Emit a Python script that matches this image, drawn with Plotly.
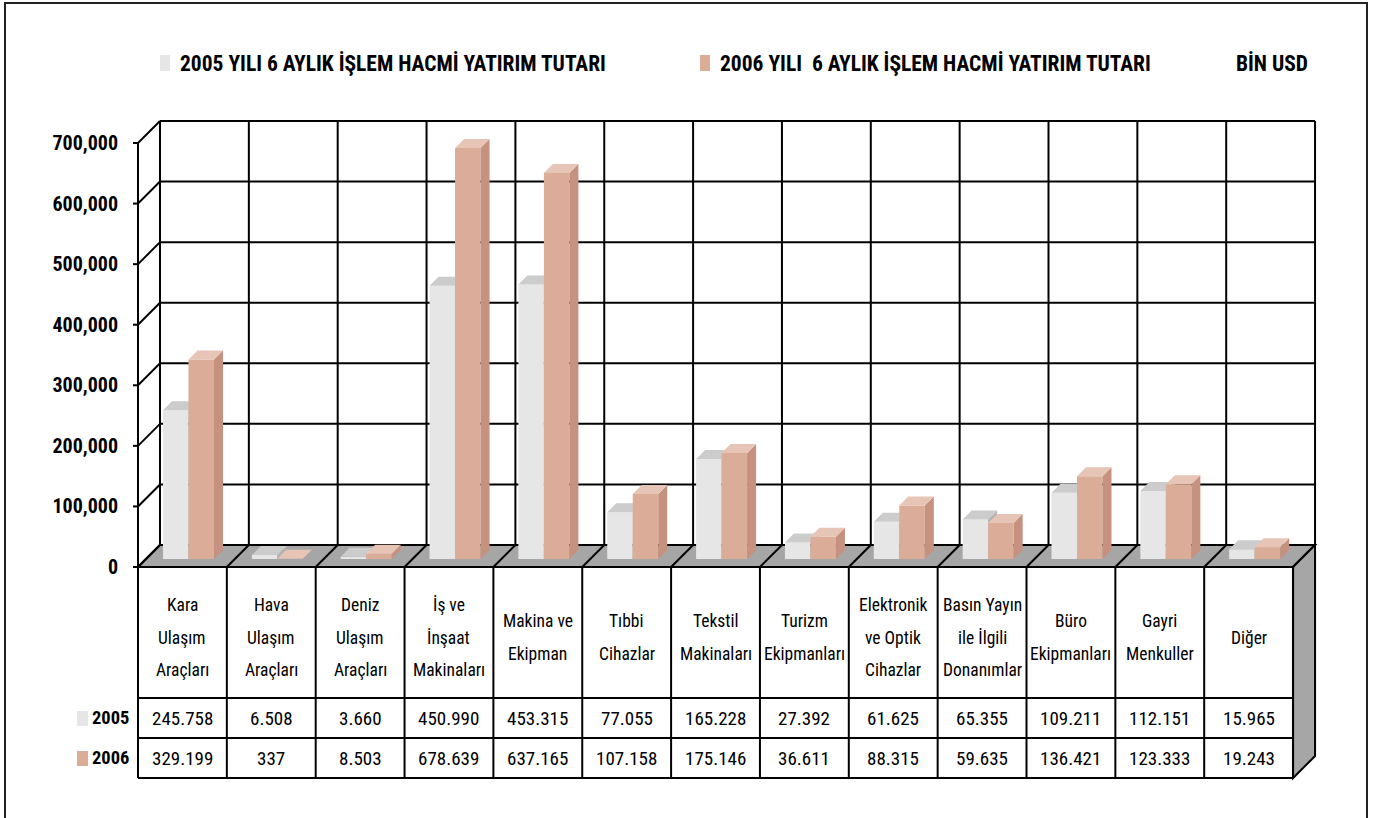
import plotly.graph_objects as go

# ---------------- data ----------------
categories = ["Kara\nUlaşım\nAraçları", "Hava\nUlaşım\nAraçları", "Deniz\nUlaşım\nAraçları",
              "İş ve\nİnşaat\nMakinaları", "Makina ve\nEkipman", "Tıbbi\nCihazlar",
              "Tekstil\nMakinaları", "Turizm\nEkipmanları", "Elektronik\nve Optik\nCihazlar",
              "Basın Yayın\nile İlgili\nDonanımlar", "Büro\nEkipmanları", "Gayri\nMenkuller", "Diğer"]
values_2005 = [245758, 6508, 3660, 450990, 453315, 77055, 165228, 27392, 61625, 65355, 109211, 112151, 15965]
values_2006 = [329199, 337, 8503, 678639, 637165, 107158, 175146, 36611, 88315, 59635, 136421, 123333, 19243]
series_names = ["2005 YILI 6 AYLIK İŞLEM HACMİ YATIRIM TUTARI", "2006 YILI  6 AYLIK İŞLEM HACMİ YATIRIM TUTARI"]
row_labels = ["2005", "2006"]
unit_label = "BİN USD"
y_tickvals = [0, 100000, 200000, 300000, 400000, 500000, 600000, 700000]

# ---------------- geometry / style ----------------
W, H = 1381, 818
L_PX, R_PX, T_PX, B_PX = 133, 1330, 100, 795
X0_PX, COLW, Y0_PX = 138, 88.85, 567
K = 424 / 700000.0               # px per value unit on the front plane
DEPTH_PX = 22
BAR_OFF_PX, BAR_DEPTH_PX = 8, 9
BAR_GAP_PX, BAR_W_PX = 17, 25.5
HEADER_BOTTOM_PX, ROW1_BOTTOM_PX, ROW2_BOTTOM_PX = 698, 738, 778
LABEL_CENTER_PX, LINE_SP = 637.5, 32.5

FONT = "Roboto Condensed, Liberation Sans, Arial, sans-serif"
C05 = dict(front="#e6e6e6", top="#cccccc", side="#b3b3b3")
C06 = dict(front="#dbac98", top="#e6c5b6", side="#c6917f")
FLOOR = "#a6a6a6"
LINE = "black"


def ux(px):
    return (px - X0_PX) / COLW


def vy(py):
    return (Y0_PX - py) / K


def pxp(px):
    return (px - L_PX) / (R_PX - L_PX)


def pyp(py):
    return (B_PX - py) / (B_PX - T_PX)


n = len(categories)
dxu = DEPTH_PX / COLW
dyv = DEPTH_PX / K
y_top = y_tickvals[-1]

shapes = []
# back wall gridlines (horizontal)
for t in y_tickvals:
    shapes.append(dict(type="line", xref="x", yref="y", x0=dxu, x1=n + dxu, y0=t + dyv, y1=t + dyv,
                       line=dict(color=LINE, width=2), layer="below"))
# back wall verticals
for i in range(n + 1):
    shapes.append(dict(type="line", xref="x", yref="y", x0=i + dxu, x1=i + dxu, y0=dyv, y1=y_top + dyv,
                       line=dict(color=LINE, width=2), layer="below"))
# side wall diagonals + front axis stubs
for t in y_tickvals:
    shapes.append(dict(type="line", xref="x", yref="y", x0=0, x1=dxu, y0=t, y1=t + dyv,
                       line=dict(color=LINE, width=2), layer="below"))
    shapes.append(dict(type="line", xref="x", yref="y", x0=ux(L_PX), x1=0, y0=t, y1=t,
                       line=dict(color=LINE, width=2), layer="below"))
shapes.append(dict(type="line", xref="x", yref="y", x0=0, x1=0, y0=0, y1=y_top,
                   line=dict(color=LINE, width=2), layer="below"))
# floor
shapes.append(dict(type="path", xref="x", yref="y",
                   path=f"M 0 0 L {n} 0 L {n + dxu} {dyv} L {dxu} {dyv} Z",
                   fillcolor=FLOOR, line=dict(color=LINE, width=2), layer="below"))
for i in range(n + 1):
    shapes.append(dict(type="line", xref="x", yref="y", x0=i, x1=i + dxu, y0=0, y1=dyv,
                       line=dict(color=LINE, width=2), layer="below"))

# data table
row_lines = [vy(Y0_PX), vy(HEADER_BOTTOM_PX), vy(ROW1_BOTTOM_PX), vy(ROW2_BOTTOM_PX)]
vb = row_lines[-1]
shapes.append(dict(type="path", xref="x", yref="y",
                   path=f"M {n} 0 L {n + dxu} {dyv} L {n + dxu} {vb + dyv} L {n} {vb} Z",
                   fillcolor=FLOOR, line=dict(color=LINE, width=2), layer="above"))
for yv in row_lines:
    shapes.append(dict(type="line", xref="x", yref="y", x0=0, x1=n, y0=yv, y1=yv,
                       line=dict(color=LINE, width=2), layer="above"))
for i in range(n + 1):
    shapes.append(dict(type="line", xref="x", yref="y", x0=i, x1=i, y0=vb, y1=0,
                       line=dict(color=LINE, width=2), layer="above"))

# outer frame
shapes.append(dict(type="rect", xref="paper", yref="paper", x0=pxp(5), x1=pxp(1367), y0=pyp(830), y1=pyp(3),
                   line=dict(color="#222222", width=2), fillcolor="rgba(0,0,0,0)", layer="above"))

# legend squares & row label squares
legend_sq_px = [160, 700]
legend_txt_px = [178, 718]
row_y_px = [718, 758]
cols = [C05, C06]
for k in range(2):
    shapes.append(dict(type="rect", xref="paper", yref="paper",
                       x0=pxp(legend_sq_px[k]), x1=pxp(legend_sq_px[k] + 10),
                       y0=pyp(71), y1=pyp(55), fillcolor=cols[k]["front"], line=dict(width=0)))
    shapes.append(dict(type="rect", xref="paper", yref="paper",
                       x0=pxp(77), x1=pxp(88), y0=pyp(row_y_px[k] + 8), y1=pyp(row_y_px[k] - 7),
                       fillcolor=cols[k]["front"], line=dict(width=0)))

# ---------------- traces (3D bars as front/side/top faces, drawn back to front) ----------------
fig = go.Figure()
bw = BAR_W_PX / COLW
base_v = BAR_OFF_PX / K
bdx = BAR_DEPTH_PX / COLW
bdy = BAR_DEPTH_PX / K
for s, (vals, c, name) in enumerate(zip([values_2005, values_2006], cols, series_names)):
    lefts = [i + (BAR_GAP_PX + s * BAR_W_PX + BAR_OFF_PX) / COLW for i in range(n)]
    fx, fy, tx, ty, sx, sy = [], [], [], [], [], []
    for xl, v in zip(lefts, vals):
        top = base_v + v
        xr = xl + bw
        fx += [xl, xr, xr, xl, xl, None]
        fy += [base_v, base_v, top, top, base_v, None]
        tx += [xl, xr, xr + bdx, xl + bdx, xl, None]
        ty += [top, top, top + bdy, top + bdy, top, None]
        sx += [xr, xr, xr + bdx, xr + bdx, xr, None]
        sy += [base_v, top, top + bdy, base_v + bdy, base_v, None]
    fig.add_trace(go.Scatter(x=fx, y=fy, fill="toself", fillcolor=c["front"], mode="none", name=name,
                             showlegend=False, hoverinfo="skip"))
    fig.add_trace(go.Scatter(x=sx, y=sy, fill="toself", fillcolor=c["side"], mode="none",
                             showlegend=False, hoverinfo="skip"))
    fig.add_trace(go.Scatter(x=tx, y=ty, fill="toself", fillcolor=c["top"], mode="none",
                             showlegend=False, hoverinfo="skip"))

# ---------------- annotations ----------------
ann = []
for i, cat in enumerate(categories):
    lines = cat.split("\n")
    m = len(lines)
    for j, ln in enumerate(lines):
        ann.append(dict(x=i + 0.5, y=vy(LABEL_CENTER_PX), xref="x", yref="y", text=ln, showarrow=False,
                        yanchor="middle", yshift=-(j - (m - 1) / 2) * LINE_SP,
                        font=dict(family=FONT, size=17.5, color="black")))
for r, vals in enumerate([values_2005, values_2006]):
    yc = (row_lines[r + 1] + row_lines[r + 2]) / 2
    for i, v in enumerate(vals):
        ann.append(dict(x=i + 0.5, y=yc, xref="x", yref="y", text=f"{v:,}".replace(",", "."),
                        yanchor="middle", showarrow=False, font=dict(family=FONT, size=19, color="black")))
    ann.append(dict(x=pxp(90), y=pyp(row_y_px[r]), xref="paper", yref="paper", text=row_labels[r],
                    xanchor="left", yanchor="middle", showarrow=False,
                    font=dict(family=FONT, size=18.5, color="black", weight="bold")))
for k in range(2):
    ann.append(dict(x=pxp(legend_txt_px[k]), y=pyp(63), xref="paper", yref="paper", text=series_names[k],
                    xanchor="left", yanchor="middle", showarrow=False,
                    font=dict(family=FONT, size=21.5, color="black", weight="bold")))
ann.append(dict(x=pxp(1310), y=pyp(63), xref="paper", yref="paper", text=unit_label,
                xanchor="right", yanchor="middle", showarrow=False,
                font=dict(family=FONT, size=21.5, color="black", weight="bold")))

fig.update_layout(
    width=W, height=H,
    margin=dict(l=L_PX, r=W - R_PX, t=T_PX, b=H - B_PX, pad=0),
    paper_bgcolor="white", plot_bgcolor="white",
    showlegend=False,
    shapes=shapes, annotations=ann,
    xaxis=dict(range=[ux(L_PX), ux(R_PX)], visible=False, fixedrange=True),
    yaxis=dict(range=[vy(B_PX), vy(T_PX)], tickvals=y_tickvals,
               ticktext=[f"{t:,}" for t in y_tickvals], ticks="", showgrid=False, zeroline=False,
               showline=False, ticklabelstandoff=14, fixedrange=True,
               tickfont=dict(family=FONT, size=20, color="black", weight="bold")),
)

fig.write_html("out.html")
